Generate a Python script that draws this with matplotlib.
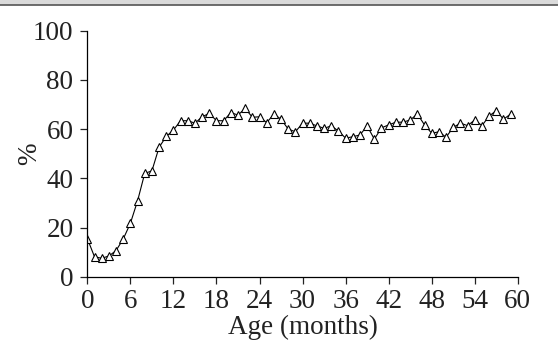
import numpy as np
import matplotlib.pyplot as plt
from matplotlib.patches import Rectangle
from matplotlib.lines import Line2D

plt.rcParams['font.family'] = ['Liberation Serif', 'DejaVu Serif']

# age in months and percentage
months = list(range(60))
pct = [15.5, 8.1, 7.5, 8.4, 10.6, 15.3, 21.7, 30.8, 42.0, 43.0,
       52.6, 57.0, 59.6, 63.4, 63.4, 62.4, 65.0, 66.4, 63.4, 63.4,
       66.7, 65.7, 68.4, 64.8, 65.0, 62.6, 66.1, 64.0, 60.0, 58.9,
       62.4, 62.4, 61.3, 60.3, 61.3, 59.2, 56.3, 56.9, 57.6, 61.3,
       55.9, 60.5, 61.7, 62.8, 62.8, 63.7, 66.1, 61.7, 58.3, 58.9,
       56.7, 60.7, 62.4, 61.4, 63.7, 61.4, 65.3, 67.5, 64.0, 66.1]
xticks = list(range(0, 61, 6))
yticks = [0, 20, 40, 60, 80, 100]

fs = 19.5
fig = plt.figure(figsize=(5.58, 3.5), dpi=100)
ax = fig.add_axes([0.1565, 0.2094, 0.7715, 0.703])

ax.plot(months, pct, color='black', lw=0.8, marker='^', ms=5.5,
        mfc='white', mec='black', mew=0.8)

ax.set_xlim(0, 60)
ax.set_ylim(0, 100)
ax.set_xticks(xticks)
ax.set_yticks(yticks)
ax.spines['top'].set_visible(False)
ax.spines['right'].set_visible(False)
ax.spines['left'].set_linewidth(0.9)
ax.spines['bottom'].set_linewidth(0.9)
ax.tick_params(direction='out', length=5, width=0.9, labelsize=fs,
               colors='#222222')
ax.tick_params(axis='y', pad=5)
ax.tick_params(axis='x', pad=4)
ax.set_xlabel('Age (months)', fontsize=fs, color='#222222')
ax.set_ylabel('%', fontsize=fs, color='#222222')
ax.xaxis.set_label_coords(0.5, -0.155)
ax.yaxis.set_label_coords(-0.105, 0.5)

# thin grey strip at the top edge of the picture
fig.patches.append(Rectangle((0, 1 - 4 / 350), 1, 4 / 350,
                             transform=fig.transFigure, color='#dadada', zorder=0))
fig.lines.append(Line2D([0, 1], [1 - 4.5 / 350] * 2, transform=fig.transFigure,
                        color='#555555', lw=1.2))

fig.savefig('out.png', dpi=100)
